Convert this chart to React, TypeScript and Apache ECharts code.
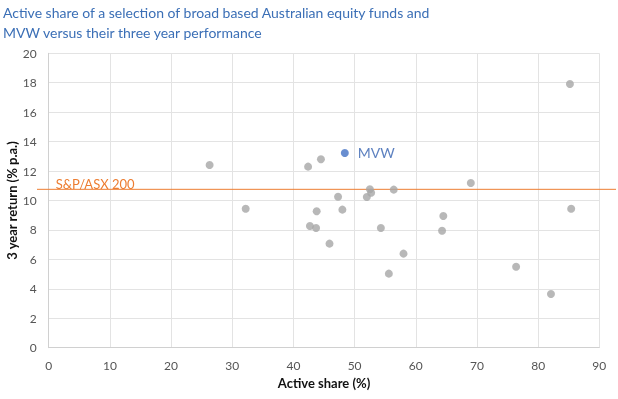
import React, { useEffect, useRef } from "react";
import * as echarts from "echarts";

const titleLines = [
  "Active share of a selection of broad based Australian equity funds and",
  "MVW versus their three year performance",
];
const xAxisName = "Active share (%)";
const yAxisName = "3 year return (% p.a.)";

// [active share %, 3-year return % p.a.]
const funds: [number, number][] = [
  [26.3, 12.41],
  [32.2, 9.44],
  [42.4, 12.3],
  [44.5, 12.8],
  [42.7, 8.27],
  [43.7, 8.13],
  [43.8, 9.27],
  [45.9, 7.07],
  [47.3, 10.26],
  [48.0, 9.38],
  [52.0, 10.24],
  [52.5, 10.76],
  [52.7, 10.53],
  [54.3, 8.13],
  [55.6, 5.03],
  [56.4, 10.74],
  [58.0, 6.39],
  [64.3, 7.95],
  [64.5, 8.95],
  [69.0, 11.19],
  [76.4, 5.5],
  [82.1, 3.65],
  [85.2, 17.91],
  [85.4, 9.44],
];
const mvw: [number, number][] = [[48.4, 13.23]];
const mvwLabel = "MVW";
const benchmarkValue = 10.76;
const benchmarkLabel = "S&P/ASX 200";

export default function App() {
  const ref = useRef<HTMLDivElement>(null);
  useEffect(() => {
    if (!ref.current) return;
    const chart = echarts.init(ref.current, undefined, { renderer: "svg" });
    const font = "Lato, 'Open Sans', sans-serif";
    chart.setOption({
      animation: false,
      textStyle: { fontFamily: font },
      title: {
        text: titleLines.join("\n"),
        left: 3,
        top: 2,
        padding: 0,
        textStyle: {
          color: "#3b6fb6",
          fontSize: 14,
          fontWeight: "normal",
          lineHeight: 20,
          fontFamily: font,
        },
      },
      grid: {
        left: 48.7,
        right: 18.7,
        top: 53.3,
        bottom: 51.3,
        outerBoundsMode: "none",
        containLabel: false,
      },
      xAxis: {
        type: "value",
        min: 0,
        max: 90,
        interval: 10,
        name: xAxisName,
        nameLocation: "middle",
        nameGap: 28,
        nameTextStyle: { color: "#111", fontWeight: "bold", fontSize: 13 },
        axisLine: { show: true, lineStyle: { color: "#d0d0d0" } },
        axisTick: { show: false },
        axisLabel: { color: "#555", fontSize: 12, margin: 12 },
        splitLine: { show: true, lineStyle: { color: "#e3e3e3" } },
      },
      yAxis: {
        type: "value",
        min: 0,
        max: 20,
        interval: 2,
        name: yAxisName,
        nameLocation: "middle",
        nameGap: 30,
        nameMoveOverlap: false,
        nameTextStyle: { color: "#111", fontWeight: "bold", fontSize: 13 },
        axisLine: { show: true, lineStyle: { color: "#d0d0d0" } },
        axisTick: { show: false },
        axisLabel: { color: "#555", fontSize: 12, margin: 12 },
        splitLine: { show: true, lineStyle: { color: "#e3e3e3" } },
      },
      series: [
        {
          type: "custom",
          data: [[0, benchmarkValue]],
          clip: false,
          silent: true,
          z: 1,
          renderItem: (params: any, api: any) => {
            const p = api.coord([0, api.value(1)]);
            return {
              type: "group",
              children: [
                {
                  type: "line",
                  shape: { x1: p[0] - 11.7, y1: p[1], x2: 616, y2: p[1] },
                  style: { stroke: "#ed7d31", lineWidth: 1 },
                },
                {
                  type: "text",
                  x: p[0] + 7,
                  y: p[1] + 1,
                  style: {
                    text: benchmarkLabel,
                    fill: "#ed7d31",
                    fontSize: 13,
                    fontFamily: font,
                    verticalAlign: "bottom",
                  },
                },
              ],
            };
          },
        },
        {
          type: "scatter",
          data: funds,
          symbolSize: 8,
          itemStyle: { color: "#a6a6a6" },
          z: 3,
        },
        {
          type: "scatter",
          data: mvw,
          symbolSize: 8,
          itemStyle: { color: "#4472c4" },
          z: 4,
          label: {
            show: true,
            position: "right",
            distance: 9,
            formatter: mvwLabel,
            color: "#3562b0",
            fontSize: 14,
            fontFamily: font,
          },
        },
      ],
    });
    return () => chart.dispose();
  }, []);
  return (
    <div
      ref={ref}
      style={{ position: "fixed", left: 0, top: 0, width: 618, height: 399 }}
    />
  );
}
